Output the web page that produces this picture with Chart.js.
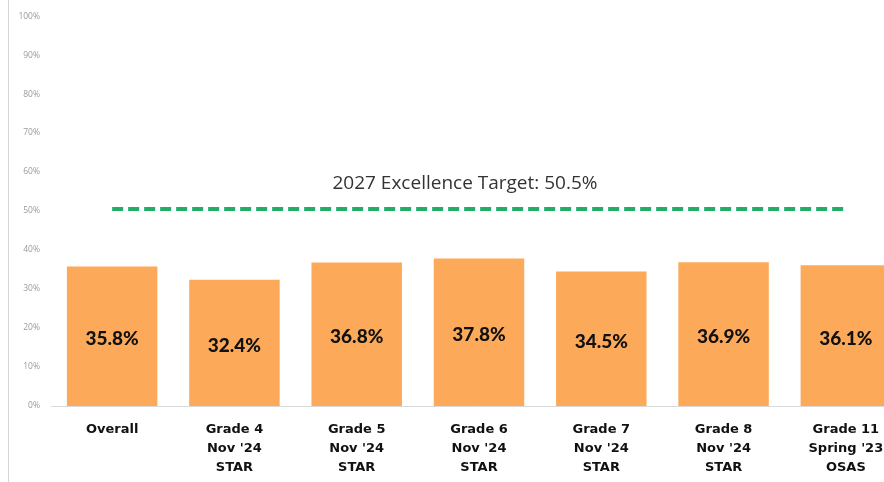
<!DOCTYPE html>
<html>
<head>
<meta charset="utf-8">
<script src="https://cdn.jsdelivr.net/npm/chart.js@4.4.1/dist/chart.umd.min.js"></script>
<style>
    html, body { margin: 0; padding: 0; background: #fff; overflow: hidden; }
    #wrap { position: relative; width: 910px; height: 482px; }
</style>
</head>
<body>
<div id="wrap"><canvas id="myChart"></canvas></div>
<script>
// Chart data
const categories = [
    ['Overall'],
    ['Grade 4', "Nov '24", 'STAR'],
    ['Grade 5', "Nov '24", 'STAR'],
    ['Grade 6', "Nov '24", 'STAR'],
    ['Grade 7', "Nov '24", 'STAR'],
    ['Grade 8', "Nov '24", 'STAR'],
    ['Grade 11', "Spring '23", 'OSAS']
];
const excellenceRates = [35.8, 32.4, 36.8, 37.8, 34.5, 36.9, 36.1];
const targetRate = 50.5;
const targetLabel = '2027 Excellence Target: 50.5%';
const yTicks = [0, 10, 20, 30, 40, 50, 60, 70, 80, 90, 100];

document.addEventListener('DOMContentLoaded', function() {
    const ctx = document.getElementById('myChart').getContext('2d');

    // Labels inside bars + target caption + left rule
    const extrasPlugin = {
        id: 'extras',
        afterDatasetsDraw(chart) {
            const c = chart.ctx;
            const bars = chart.getDatasetMeta(0).data;
            c.save();
            c.fillStyle = '#111';
            c.font = '900 19px Lato, "DejaVu Sans", sans-serif';
            c.textAlign = 'center';
            c.textBaseline = 'middle';
            bars.forEach((bar, i) => {
                const mid = (bar.y + bar.base) / 2 + 3;
                c.fillText(excellenceRates[i].toFixed(1) + '%', bar.x, mid);
            });

            // caption above target line
            const pts = chart.getDatasetMeta(1).data;
            const cx = (pts[0].x + pts[pts.length - 1].x) / 2 - 14;
            c.fillStyle = '#333';
            c.font = '19px "Open Sans", sans-serif';
            c.textBaseline = 'alphabetic';
            c.fillText(targetLabel, cx, pts[0].y - 20);

            // thin vertical rule left of the tick labels
            c.strokeStyle = '#d6d6d6';
            c.lineWidth = 1;
            c.beginPath();
            c.moveTo(8.5, 0);
            c.lineTo(8.5, chart.height);
            c.stroke();
            c.restore();
        }
    };

    new Chart(ctx, {
        type: 'bar',
        data: {
            labels: categories,
            datasets: [{
                label: 'Excellence rate',
                data: excellenceRates,
                backgroundColor: '#fcaa5a',
                categoryPercentage: 0.74,
                barPercentage: 1.0,
                order: 2
            }, {
                type: 'line',
                label: 'Target',
                data: categories.map(() => targetRate),
                borderColor: '#22ad66',
                borderWidth: 4,
                borderDash: [11, 5],
                pointRadius: 0,
                fill: false,
                order: 1
            }]
        },
        options: {
            responsive: true,
            maintainAspectRatio: false,
            animation: false,
            layout: { padding: { top: 16, right: 3, bottom: 0, left: 0 } },
            plugins: { legend: { display: false }, tooltip: { enabled: false } },
            scales: {
                x: {
                    afterFit: axis => { axis.height = 76; },
                    grid: { display: false, drawTicks: false },
                    border: { display: true, color: '#d9d9d9', width: 1 },
                    ticks: {
                        color: '#111',
                        padding: 14,
                        maxRotation: 0,
                        autoSkip: false,
                        font: { family: '"DejaVu Sans", sans-serif', size: 13, weight: 'bold', lineHeight: 1.45 }
                    }
                },
                y: {
                    min: 0,
                    max: 100,
                    afterBuildTicks: axis => { axis.ticks = yTicks.map(v => ({ value: v })); },
                    afterFit: axis => { axis.width = 51; },
                    grid: { display: false, drawTicks: false },
                    border: { display: false },
                    ticks: {
                        color: '#999',
                        padding: 11,
                        font: { family: '"Open Sans", sans-serif', size: 8.5 },
                        callback: v => v + '%'
                    }
                }
            }
        },
        plugins: [extrasPlugin]
    });
});
</script>
</body>
</html>
